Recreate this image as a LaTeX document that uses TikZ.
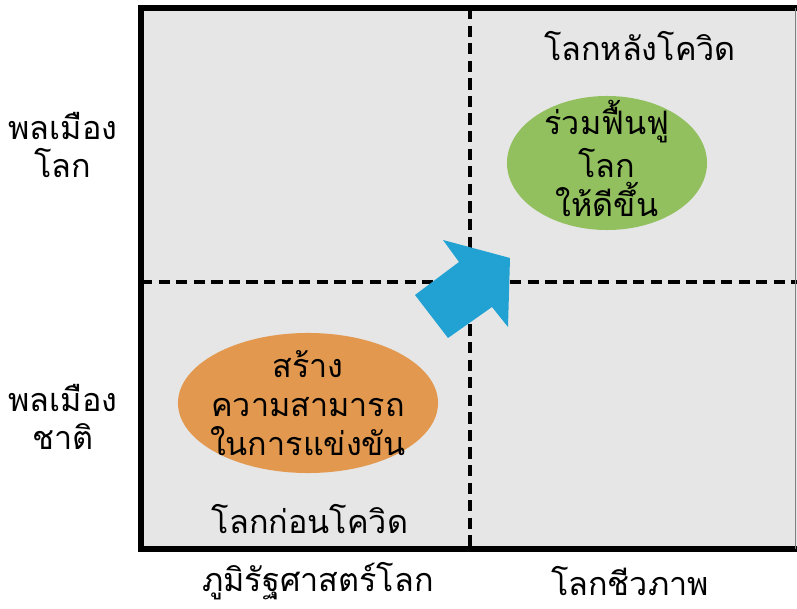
\documentclass[tikz,border=0pt]{standalone}
\usepackage{fontspec}
\newfontfamily\thaifont[Script=Thai]{Loma}
\usepackage{xcolor}
\definecolor{panelgray}{RGB}{230,230,230}
\definecolor{recovergreen}{RGB}{146,192,94}
\definecolor{competeorange}{RGB}{226,153,79}
\definecolor{shiftblue}{RGB}{34,162,211}
\usetikzlibrary{shapes.geometric}
\tikzset{
    thaitext/.style={align=center, inner sep=0pt},
    blob/.style={ellipse, inner sep=0pt},
    quadline/.style={line width=2.8pt, dash pattern=on 8pt off 4.5pt}
}

\begin{document}
\begin{tikzpicture}[x=0.025cm, y=-0.025cm]
    \thaifont\fontsize{23}{27.5}\selectfont
    \useasboundingbox (0,0) rectangle (797,609);
    % panel
    \fill[panelgray] (141,8) rectangle (797,549);
    \draw[quadline] (470,8) -- (470,549);
    \draw[quadline] (141,282) -- (797,282);
    \draw[line width=4.3pt] (797,8) -- (141,8) -- (141,549) -- (797,549);
    \draw[color=gray, line width=1pt] (795.5,8) -- (795.5,549);
    % arrow from before to after
    \fill[shiftblue] (415,295) -- (448,338) -- (492,307) -- (508,327) -- (510,258) -- (443,240) -- (459,262) -- cycle;
    % ellipses
    \node[blob, fill=recovergreen, minimum width=5cm, minimum height=3.35cm] (recover) at (607,163) {};
    \node[thaitext] (recovertext) at ([yshift=0.12cm]recover.center) {ร่วมฟื้นฟู\\[3pt]โลก\\ให้ดีขึ้น};
    \node[blob, fill=competeorange, minimum width=6.5cm, minimum height=3.5cm] (compete) at (308,403) {};
    \node[thaitext] (competetext) at (compete.center) {สร้าง\\ความสามารถ\\ในการแข่งขัน};
    % quadrant titles
    \node[thaitext] (after) at (640,46) {โลกหลังโควิด};
    \node[thaitext] (before) at (310,519) {โลกก่อนโควิด};
    % axis labels
    \node[thaitext] (global) at (63,145) {พลเมือง\\โลก};
    \node[thaitext] (national) at (63,417) {พลเมือง\\ชาติ};
    \node[thaitext] (geopol) at (318,581) {ภูมิรัฐศาสตร์โลก};
    \node[thaitext] (bio) at (630,581) {โลกชีวภาพ};
\end{tikzpicture}
\end{document}
